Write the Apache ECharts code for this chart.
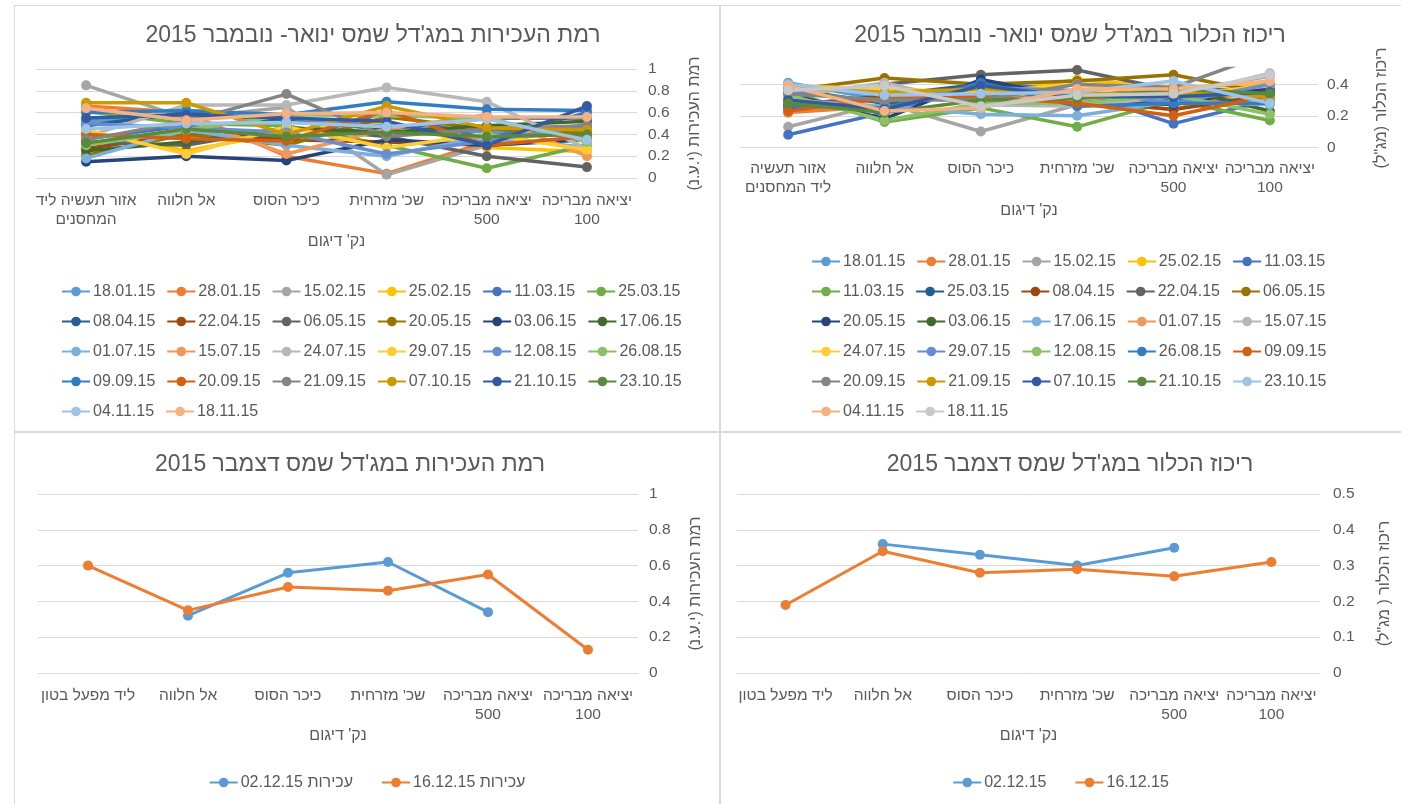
<!DOCTYPE html>
<html><head><meta charset="utf-8">
<script src="https://cdn.jsdelivr.net/npm/echarts@6/dist/echarts.min.js"></script>
<style>
html,body{margin:0;padding:0;background:#fff;width:1401px;height:804px;overflow:hidden}
.c{position:absolute}
.b{position:absolute;background:#D9D9D9;z-index:5;pointer-events:none}
</style></head><body>
<div id="tl" class="c" style="left:14px;top:5px;width:706px;height:426px"></div>
<div id="tr" class="c" style="left:720px;top:5px;width:681px;height:426px"></div>
<div id="bl" class="c" style="left:14px;top:431px;width:706px;height:373px"></div>
<div id="br" class="c" style="left:720px;top:431px;width:681px;height:373px"></div>
<div class="b" style="left:14px;top:5px;width:1387px;height:1px"></div>
<div class="b" style="left:14px;top:431px;width:1387px;height:2px"></div>
<div class="b" style="left:14px;top:5px;width:1px;height:799px"></div>
<div class="b" style="left:719px;top:5px;width:2px;height:799px"></div>
<script>
// ---------- DATA ----------
const catsJanNovTurb = ["אזור תעשיה ליד\nהמחסנים", "אל חלווה", "כיכר הסוס", "שכ' מזרחית", "יציאה מבריכה\n500", "יציאה מבריכה\n100"];
const catsJanNovChl = ["אזור תעשיה\nליד המחסנים", "אל חלווה", "כיכר הסוס", "שכ' מזרחית", "יציאה מבריכה\n500", "יציאה מבריכה\n100"];
const catsDec = ["ליד מפעל בטון", "אל חלווה", "כיכר הסוס", "שכ' מזרחית", "יציאה מבריכה\n500", "יציאה מבריכה\n100"];

const datesTurb = ["18.01.15","28.01.15","15.02.15","25.02.15","11.03.15","25.03.15","08.04.15","22.04.15","06.05.15","20.05.15","03.06.15","17.06.15","01.07.15","15.07.15","24.07.15","29.07.15","12.08.15","26.08.15","09.09.15","20.09.15","21.09.15","07.10.15","21.10.15","23.10.15","04.11.15","18.11.15"];
const turbJanNov = [
  [0.52,0.58,0.55,0.48,0.42,0.40],
  [0.66,0.60,0.20,0.04,0.33,0.45],
  [0.85,0.55,0.65,0.03,0.30,0.50],
  [0.42,0.25,0.42,0.52,0.28,0.24],
  [0.36,0.48,0.35,0.60,0.36,0.60],
  [0.61,0.50,0.48,0.30,0.09,0.30],
  [0.48,0.60,0.52,0.45,0.55,0.55],
  [0.27,0.40,0.35,0.33,0.30,0.36],
  [0.33,0.30,0.46,0.38,0.20,0.10],
  [0.21,0.40,0.30,0.56,0.45,0.42],
  [0.15,0.20,0.16,0.35,0.30,0.35],
  [0.25,0.33,0.46,0.42,0.48,0.52],
  [0.18,0.44,0.30,0.20,0.38,0.28],
  [0.63,0.55,0.22,0.45,0.58,0.20],
  [0.38,0.67,0.67,0.83,0.70,0.27],
  [0.44,0.22,0.47,0.28,0.40,0.26],
  [0.50,0.46,0.42,0.22,0.34,0.48],
  [0.30,0.44,0.58,0.57,0.55,0.33],
  [0.60,0.62,0.58,0.70,0.63,0.62],
  [0.40,0.36,0.34,0.62,0.30,0.38],
  [0.35,0.52,0.77,0.38,0.45,0.48],
  [0.69,0.69,0.40,0.66,0.46,0.44],
  [0.55,0.58,0.55,0.52,0.30,0.66],
  [0.32,0.45,0.38,0.42,0.38,0.40],
  [0.45,0.50,0.51,0.47,0.54,0.35],
  [0.64,0.53,0.59,0.60,0.56,0.56]
];

const datesChl = ["18.01.15","28.01.15","15.02.15","25.02.15","11.03.15","11.03.15","25.03.15","08.04.15","22.04.15","06.05.15","20.05.15","03.06.15","17.06.15","01.07.15","15.07.15","24.07.15","29.07.15","12.08.15","26.08.15","09.09.15","20.09.15","21.09.15","07.10.15","21.10.15","23.10.15","04.11.15","18.11.15"];
const chlJanNov = [
  [0.41,0.30,0.32,0.28,0.31,0.30],
  [0.22,0.26,0.38,0.29,0.24,0.39],
  [0.13,0.28,0.10,0.27,0.35,0.45],
  [0.38,0.36,0.33,0.43,0.38,0.40],
  [0.08,0.22,0.42,0.35,0.15,0.30],
  [0.36,0.16,0.25,0.13,0.30,0.17],
  [0.25,0.33,0.40,0.33,0.31,0.36],
  [0.27,0.32,0.30,0.30,0.24,0.33],
  [0.33,0.40,0.46,0.49,0.36,0.37],
  [0.36,0.44,0.40,0.42,0.46,0.34],
  [0.34,0.18,0.43,0.31,0.27,0.38],
  [0.37,0.28,0.34,0.32,0.38,0.23],
  [0.30,0.26,0.21,0.20,0.29,0.27],
  [0.39,0.34,0.36,0.30,0.36,0.31],
  [0.32,0.41,0.27,0.26,0.32,0.47],
  [0.39,0.37,0.35,0.40,0.33,0.39],
  [0.35,0.29,0.38,0.36,0.28,0.40],
  [0.33,0.17,0.28,0.28,0.33,0.21],
  [0.26,0.25,0.41,0.26,0.28,0.28],
  [0.23,0.31,0.32,0.28,0.20,0.33],
  [0.34,0.30,0.30,0.40,0.38,0.60],
  [0.38,0.35,0.37,0.34,0.35,0.32],
  [0.30,0.24,0.39,0.32,0.32,0.35],
  [0.28,0.22,0.30,0.31,0.37,0.34],
  [0.40,0.33,0.34,0.35,0.42,0.28],
  [0.39,0.23,0.25,0.37,0.37,0.42],
  [0.36,0.39,0.26,0.33,0.34,0.46]
];

const decTurbNames = ["עכירות 02.12.15", "עכירות 16.12.15"];
const decTurb02 = [null, 0.32, 0.56, 0.62, 0.34, null];
const decTurb16 = [0.60, 0.35, 0.48, 0.46, 0.55, 0.13];
const decChlNames = ["02.12.15", "16.12.15"];
const decChl02 = [null, 0.36, 0.33, 0.30, 0.35, null];
const decChl16 = [0.19, 0.34, 0.28, 0.29, 0.27, 0.31];

const titles = [
  "רמת העכירות במג'דל שמס ינואר- נובמבר 2015",
  "ריכוז הכלור במג'דל שמס ינואר- נובמבר 2015",
  "רמת העכירות במג'דל שמס דצמבר 2015",
  "ריכוז הכלור במג'דל שמס דצמבר 2015"
];
const xName = "נק' דיגום";
const yNames = ["רמת העכירות (י.ע.נ)", "ריכוז הכלור (מג\"ל)", "רמת העכירות (י.ע.נ)", "ריכוז הכלור ( מג\"ל)"];

// ---------- STYLE ----------
const palette = ["#5B9BD5","#ED7D31","#A5A5A5","#FFC000","#4472C4","#70AD47","#255E91","#9E480E","#636363","#997300","#264478","#43682B","#7CAFDD","#F1975A","#B7B7B7","#FFCD33","#698ED0","#8CC168","#327DC2","#D26012","#848484","#CC9A00","#335AA1","#5A8A39","#9DC3E6","#F4B183","#C9C9C9"];
const FONT = "'Liberation Sans', Arial, 'DejaVu Sans', sans-serif";
const TXT = "#595959";
const GRIDC = "#D9D9D9";

function makeSeries(names, values, lw, ss) {
  const used = {};
  return names.map((n, i) => {
    let nm = n;
    while (used[nm]) nm += "\u200B";
    used[nm] = true;
    return {
      type: 'line', name: nm, data: values[i], symbol: 'circle', symbolSize: ss,
      color: palette[i % palette.length],
      lineStyle: { width: lw }, connectNulls: false, animation: false
    };
  });
}

function baseOption(o) {
  return {
    animation: false,
    textStyle: { fontFamily: FONT },
    title: { text: o.title, left: o.titleX, top: o.titleTop, textAlign: 'center',
      textStyle: { fontFamily: FONT, fontSize: 23, fontWeight: 'normal', color: TXT } },
    grid: o.grid,
    xAxis: {
      type: 'category', data: o.cats, boundaryGap: true,
      name: xName, nameLocation: 'middle', nameGap: o.xNameGap,
      nameTextStyle: { fontFamily: FONT, fontSize: 16, color: TXT },
      axisLine: { show: true, lineStyle: { color: GRIDC, width: 1 } },
      axisTick: { show: false },
      axisLabel: { interval: 0, margin: o.xMargin, fontFamily: FONT, fontSize: 15.5, color: TXT, lineHeight: 19 }
    },
    yAxis: {
      type: 'value', position: 'right', min: 0, max: o.ymax, interval: o.yint,
      name: o.yName, nameLocation: 'middle', nameGap: o.yNameGap, nameRotate: 90,
      nameTextStyle: { fontFamily: FONT, fontSize: 16, color: TXT },
      axisLine: { show: false }, axisTick: { show: false },
      axisLabel: { margin: o.yMargin, fontFamily: FONT, fontSize: 15.5, color: TXT, showMaxLabel: o.showMax !== false },
      splitLine: { show: true, showMaxLine: o.showMax !== false, lineStyle: { color: GRIDC, width: 1 } }
    },
    legend: Object.assign({
      orient: 'horizontal', itemWidth: 28, itemHeight: 12, itemGap: o.legendGap || 11,
      textStyle: { fontFamily: FONT, fontSize: 16, lineHeight: 19, color: TXT, padding: [0, 0, 0, -2] }
    }, o.legend),
    series: o.series
  };
}

const tl = echarts.init(document.getElementById('tl'));
tl.setOption(baseOption({
  title: titles[0], titleX: 354, titleTop: 14,
  grid: { left: 22, top: 64, width: 601, height: 109 },
  cats: catsJanNovTurb, xNameGap: 56, xMargin: 13,
  ymax: 1, yint: 0.2, yName: yNames[0], yNameGap: 50, yMargin: 11,
  legend: { left: 42, top: 272, width: 630 },
  series: makeSeries(datesTurb, turbJanNov, 3.5, 10)
}));

const tr = echarts.init(document.getElementById('tr'));
tr.setOption(baseOption({
  title: titles[1], titleX: 345, titleTop: 14,
  grid: { left: 20, top: 63.5, width: 578, height: 78.8 },
  cats: catsJanNovChl, xNameGap: 55, xMargin: 12,
  ymax: 0.5, yint: 0.2, showMax: false, yName: yNames[1], yNameGap: 56, yMargin: 9,
  legend: { left: 86, top: 242, width: 530 },
  series: makeSeries(datesChl, chlJanNov, 3.5, 10)
}));

const bl = echarts.init(document.getElementById('bl'));
bl.setOption(baseOption({
  title: titles[2], titleX: 331, titleTop: 17,
  grid: { left: 24, top: 63, width: 600, height: 179 },
  cats: catsDec, xNameGap: 55, xMargin: 13,
  ymax: 1, yint: 0.2, yName: yNames[2], yNameGap: 50, yMargin: 11,
  legend: { left: 'center', top: 337, itemGap: 28 },
  series: makeSeries(decTurbNames, [decTurb02, decTurb16], 3, 10)
}));

const br = echarts.init(document.getElementById('br'));
br.setOption(baseOption({
  title: titles[3], titleX: 345, titleTop: 17,
  grid: { left: 17, top: 63, width: 588, height: 179 },
  cats: catsDec, xNameGap: 55, xMargin: 13,
  ymax: 0.5, yint: 0.1, yName: yNames[3], yNameGap: 57, yMargin: 13,
  legend: { left: 'center', top: 337, itemGap: 28 },
  series: makeSeries(decChlNames, [decChl02, decChl16], 3, 10)
}));
</script>
</body></html>
